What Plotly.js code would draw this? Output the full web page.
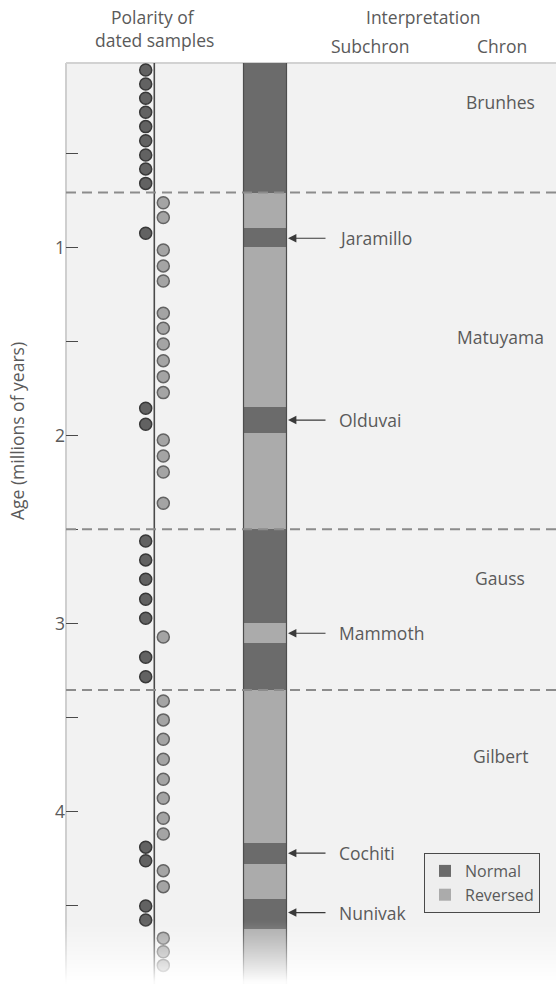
<!DOCTYPE html>
<html>
<head>
<meta charset="utf-8">
<script src="https://cdn.plot.ly/plotly-3.0.1.min.js"></script>
<style>
html,body{margin:0;padding:0;background:#fff;}
#chart{width:556px;height:984px;}
</style>
</head>
<body>
<div id="chart"></div>
<script>
// ---- data (ages in millions of years) ----
const normalSampleAges = [0.056,0.130,0.206,0.281,0.357,0.432,0.508,0.582,0.659,0.924,1.855,1.940,2.561,2.662,2.765,2.871,2.972,3.180,3.283,4.190,4.262,4.503,4.577];
const reversedSampleAges = [0.762,0.841,1.013,1.098,1.178,1.350,1.430,1.513,1.602,1.687,1.772,2.024,2.109,2.194,2.361,3.072,3.412,3.513,3.616,3.722,3.829,3.930,4.036,4.120,4.315,4.400,4.674,4.746,4.819];

const normalStarts = [0, 0.898, 1.850, 2.499, 3.105, 4.166, 4.465];
const normalEnds   = [0.708, 0.996, 1.985, 2.999, 3.354, 4.279, 4.625];
const reversedStarts = [0.708, 0.996, 1.985, 2.999, 3.354, 4.279, 4.625];
const reversedEnds   = [0.898, 1.850, 2.499, 3.105, 4.166, 4.465, 4.95];

const chronBoundaries = [0.708, 2.499, 3.354];
const chronNames = ["Brunhes", "Matuyama", "Gauss", "Gilbert"];
const chronLabelAges = [0.224, 1.474, 2.758, 3.705];

const subchronNames = ["Jaramillo", "Olduvai", "Mammoth", "Cochiti", "Nunivak"];
const subchronAges = [0.951, 1.918, 3.052, 4.222, 4.538];

const tickValues = [0.5, 1, 1.5, 2, 2.5, 3, 3.5, 4, 4.5];
const tickLabels = ["", "1", "", "2", "", "3", "", "4", ""];
const zeroLabel = "0";

// ---- layout geometry (pixels inside the plot, x axis = 1 unit per px) ----
const W = 556, H = 984, ML = 66, MT = 63;
const PW = W - ML, PH = H - MT;
const FONT = "Open Sans, Liberation Sans, sans-serif";
const FS = 17.5;
const TXT = "#5a5a5a";
const xNormalDots = 79.7, xReversedDots = 97.3, xCenterLine = 88.3;
const xBar = 199, barW = 43;
const xArrowTail = 261, xSubText = 271, xChron = 434;

const traces = [
  {
    type: "bar", name: "Normal", orientation: "v",
    x: normalStarts.map(() => xBar),
    base: normalStarts,
    y: normalStarts.map((s, i) => normalEnds[i] - s),
    width: barW,
    marker: {color: "#6b6b6b", line: {width: 0}},
    hoverinfo: "skip"
  },
  {
    type: "bar", name: "Reversed", orientation: "v",
    x: reversedStarts.map(() => xBar),
    base: reversedStarts,
    y: reversedStarts.map((s, i) => reversedEnds[i] - s),
    width: barW,
    marker: {color: "#ababab", line: {width: 0}},
    hoverinfo: "skip"
  },
  {
    type: "scatter", mode: "markers", showlegend: false,
    x: normalSampleAges.map(() => xNormalDots),
    y: normalSampleAges,
    marker: {size: 12, color: "#626262", line: {color: "#383838", width: 1.5}},
    hoverinfo: "skip", cliponaxis: true
  },
  {
    type: "scatter", mode: "markers", showlegend: false,
    x: reversedSampleAges.map(() => xReversedDots),
    y: reversedSampleAges,
    marker: {size: 12, color: "#a4a4a4", line: {color: "#636363", width: 1.5}},
    hoverinfo: "skip", cliponaxis: true
  }
];

const shapes = [];
// plot border (left + top)
shapes.push({type: "line", xref: "paper", yref: "paper", x0: 0, x1: 0, y0: 0, y1: 1, line: {color: "#cfcfcf", width: 2}, layer: "below"});
shapes.push({type: "line", xref: "paper", yref: "paper", x0: 0, x1: 1, y0: 1, y1: 1, line: {color: "#d2d2d2", width: 2}, layer: "below"});
// center line of samples column
shapes.push({type: "line", xref: "x", yref: "paper", x0: xCenterLine, x1: xCenterLine, y0: 0, y1: 1, line: {color: "#4a4a4a", width: 1.6}, layer: "below"});
// bar edges
[xBar - barW / 2, xBar + barW / 2].forEach(xe => {
  shapes.push({type: "line", xref: "x", yref: "paper", x0: xe, x1: xe, y0: 0, y1: 1, line: {color: "#4d4d4d", width: 1.2}, layer: "above"});
});
// chron boundaries
chronBoundaries.forEach(a => {
  shapes.push({type: "line", xref: "paper", yref: "y", x0: 0, x1: 1, y0: a, y1: a, line: {color: "#8c8c8c", width: 2, dash: "10px,6px"}, layer: "above"});
});
// bottom fade to white (1px strips)
const fadeTopPx = 920, nStrips = H - fadeTopPx;
for (let i = 0; i < nStrips; i++) {
  const top = fadeTopPx + i;
  shapes.push({
    type: "rect", xref: "paper", yref: "paper", x0: -0.01, x1: 1.01,
    y0: (H - (top + 1)) / PH, y1: (H - top) / PH,
    fillcolor: "#ffffff", opacity: Math.min(0.97, Math.pow((i + 1) / nStrips, 1.2)),
    line: {width: 0}, layer: "above"
  });
}

const annotations = [];
// header texts
const hdr = (text, px, py) => ({text, xref: "paper", yref: "paper", x: (px - ML) / PW, y: 1 + (MT - py) / PH, xanchor: "center", yanchor: "middle", showarrow: false, font: {family: FONT, size: FS, color: TXT}});
annotations.push(hdr("Polarity of", 153, 17));
annotations.push(hdr("dated samples", 154, 40));
annotations.push(hdr("Interpretation", 423, 17));
annotations.push(hdr("Subchron", 370, 46));
annotations.push(hdr("Chron", 502, 46));
// y-axis title
annotations.push({text: "Age (millions of years)", xref: "paper", yref: "paper", x: (17 - ML) / PW, y: 1 - (431 - MT) / PH, textangle: -90, xanchor: "center", yanchor: "middle", showarrow: false, font: {family: FONT, size: FS, color: TXT}});
// "0" tick label (sits on the top border)
annotations.push({text: zeroLabel, xref: "paper", yref: "y", x: (57 - ML) / PW, y: 0, xanchor: "right", yanchor: "middle", showarrow: false, font: {family: FONT, size: FS, color: TXT}});
// chron names
chronNames.forEach((n, i) => {
  annotations.push({text: n, xref: "x", yref: "y", x: xChron, y: chronLabelAges[i], xanchor: "center", yanchor: "middle", showarrow: false, font: {family: FONT, size: FS, color: TXT}});
});
// subchron arrows + names
subchronNames.forEach((n, i) => {
  annotations.push({text: "", xref: "x", yref: "y", x: xBar + barW / 2 + 1.5, y: subchronAges[i], axref: "x", ayref: "y", ax: xArrowTail, ay: subchronAges[i], showarrow: true, arrowhead: 2, arrowsize: 1.4, arrowwidth: 1.2, arrowcolor: "#3a3a3a", standoff: 0});
  annotations.push({text: n, xref: "x", yref: "y", x: xSubText, y: subchronAges[i], xanchor: "left", yanchor: "middle", showarrow: false, font: {family: FONT, size: FS, color: TXT}});
});

const layout = {
  width: W, height: H,
  margin: {l: ML, r: 0, t: MT, b: 0, pad: 0},
  paper_bgcolor: "#ffffff",
  plot_bgcolor: "#f2f2f2",
  barmode: "overlay",
  bargap: 0,
  showlegend: true,
  legend: {
    x: (424 - ML) / PW, y: 1 - (853 - MT) / PH, xanchor: "left", yanchor: "top",
    bgcolor: "#eeeeee", bordercolor: "#4a4a4a", borderwidth: 1,
    font: {family: FONT, size: 16, color: TXT},
    tracegroupgap: 0, itemwidth: 30
  },
  xaxis: {range: [0, PW], visible: false, fixedrange: true, showgrid: false, zeroline: false},
  yaxis: {
    range: [4.918, 0.0186], autorange: false,
    tickmode: "array", tickvals: tickValues, ticktext: tickLabels,
    ticks: "inside", ticklen: 12, tickwidth: 1.3, tickcolor: "#4a4a4a",
    showgrid: false, zeroline: false, showline: false,
    tickfont: {family: FONT, size: FS, color: TXT},
    fixedrange: true
  },
  shapes, annotations,
  font: {family: FONT, color: TXT}
};

Plotly.newPlot("chart", traces, layout, {displayModeBar: false, staticPlot: true});
</script>
</body>
</html>
